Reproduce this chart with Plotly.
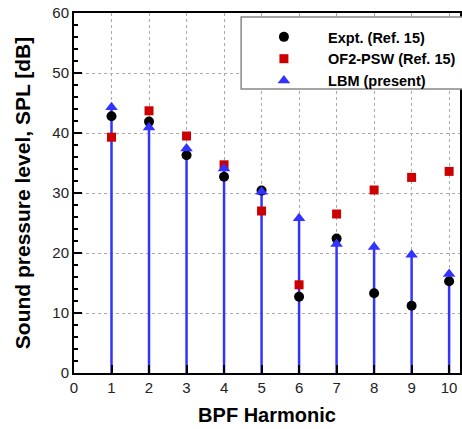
import plotly.graph_objects as go

harmonic = [1, 2, 3, 4, 5, 6, 7, 8, 9, 10]
expt = [42.8, 41.9, 36.3, 32.7, 30.4, 12.7, 22.4, 13.3, 11.2, 15.3]
of2_psw = [39.3, 43.7, 39.5, 34.7, 27.0, 14.7, 26.5, 30.5, 32.6, 33.6]
lbm = [44.3, 40.9, 37.4, 34.1, 30.2, 25.8, 21.5, 21.0, 19.7, 16.5]
series_names = ["Expt. (Ref. 15)", "OF2-PSW (Ref. 15)", "LBM (present)"]

x_ticks = [0, 1, 2, 3, 4, 5, 6, 7, 8, 9, 10]
y_ticks = [0, 10, 20, 30, 40, 50, 60]

BLUE = "#3333ff"
RED = "#cc0000"
PAD = "\u00a0" * 6

stem_x, stem_y = [], []
for h, v in zip(harmonic, lbm):
    stem_x += [h, h, None]
    stem_y += [0, v, None]

fig = go.Figure()
fig.add_trace(go.Scatter(x=stem_x, y=stem_y, mode="lines",
                         line=dict(color=BLUE, width=2.5), showlegend=False,
                         hoverinfo="skip"))
fig.add_trace(go.Scatter(x=harmonic, y=expt, mode="markers", name=PAD + series_names[0],
                         marker=dict(symbol="circle", size=10, color="black")))
fig.add_trace(go.Scatter(x=harmonic, y=of2_psw, mode="markers", name=PAD + series_names[1],
                         marker=dict(symbol="square", size=9, color=RED)))
fig.add_trace(go.Scatter(x=harmonic, y=lbm, mode="markers", name=PAD + series_names[2],
                         marker=dict(symbol="triangle-up", size=11, color=BLUE)))

axis_common = dict(showline=True, linecolor="black", linewidth=2, mirror=True,
                   ticks="inside", tickcolor="black", tickwidth=2, ticklen=8,
                   showgrid=True, gridcolor="#aaaaaa", griddash="dot", gridwidth=1,
                   zeroline=False, tickfont=dict(family="Arial", size=15, color="#222222"))

fig.update_xaxes(range=[0, 10.29], tickvals=x_ticks,
                 title=dict(text="<b>BPF Harmonic</b>", font=dict(family="Arial", size=20, color="black"), standoff=13),
                 **axis_common)
fig.update_yaxes(range=[0, 60], tickvals=y_ticks,
                 minor=dict(dtick=2, ticks="inside", ticklen=4, tickcolor="black", showgrid=False),
                 title=dict(text="<b>Sound pressure level, SPL [dB]</b>", font=dict(family="Arial", size=21, color="black"), standoff=16),
                 **axis_common)

# legend frame
fig.add_shape(type="rect", xref="paper", yref="paper",
              x0=0.433, x1=1.05, y0=0.789, y1=0.989,
              line=dict(color="#888888", width=1.5), fillcolor="white", layer="above")

fig.update_layout(
    width=462, height=429,
    margin=dict(l=74, r=0, t=13, b=56),
    plot_bgcolor="white", paper_bgcolor="white",
    legend=dict(x=0.492, y=0.978, xanchor="left", yanchor="top",
                bgcolor="rgba(0,0,0,0)", borderwidth=0,
                font=dict(family="Arial", size=14.5, color="black", weight="bold"),
                tracegroupgap=0),
    showlegend=True,
)

fig.write_html("out.html")
